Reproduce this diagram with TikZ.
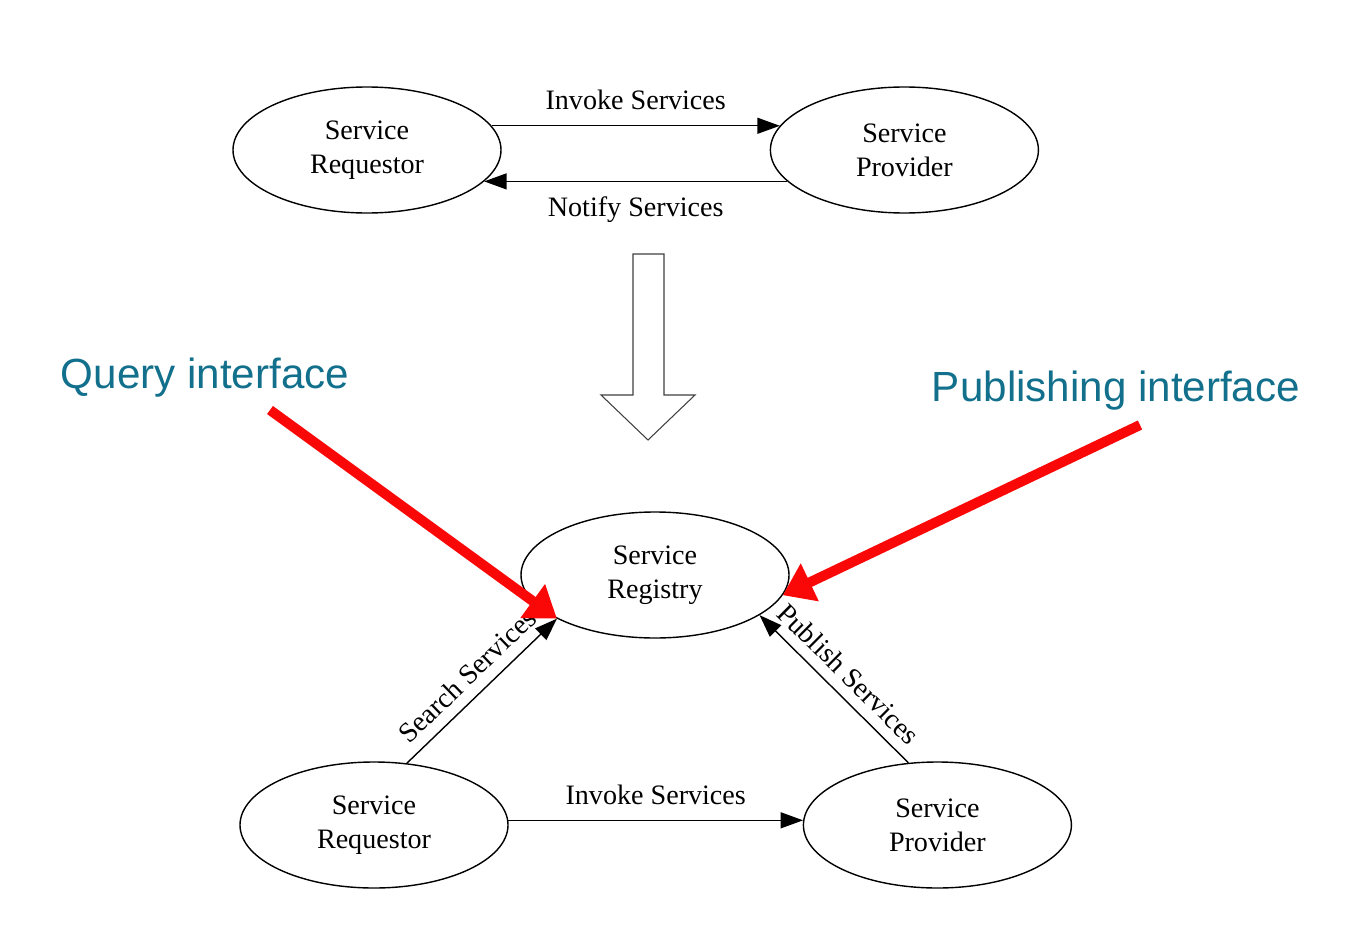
\documentclass[tikz,border=0pt]{standalone}
\usepackage{fontspec}
\setmainfont{Liberation Serif}
\newfontfamily\callfont{Liberation Sans}
\usepackage{xcolor}
\usetikzlibrary{shapes.geometric,arrows.meta,positioning}

\definecolor{callteal}{RGB}{18,112,140}
\definecolor{callred}{RGB}{250,8,8}

\begin{document}
\begin{tikzpicture}[
        svc/.style={ellipse, draw, line width=0.8pt, minimum width=5.36cm, minimum height=2.52cm, inner sep=0pt, align=center, font=\fontsize{16}{19.5}\selectfont},
        flow/.style={-{Triangle[length=0.45cm, width=0.32cm]}, line width=0.8pt},
        lbl/.style={font=\fontsize{16}{19}\selectfont, inner sep=8.5pt},
        callout/.style={font=\callfont\fontsize{24}{28}\selectfont, text=callteal},
        pointer/.style={-{Triangle[length=0.6cm, width=0.8cm]}, line width=0.2cm, callred},
        hollow/.style={draw=black!75, line width=0.6pt, fill=white}
    ]
        \useasboundingbox (0,0) rectangle (27.08,-18.88);

        % upper pair
        \node[svc] (reqtop) at (7.34,-3.0) {Service\\Requestor};
        \node[svc, right=5.36cm of reqtop] (provtop) {Service\\Provider};

        \draw[flow] (reqtop.11) -- node[lbl, above]{Invoke Services} (provtop.169);
        \draw[flow] (provtop.195) -- node[lbl, below]{Notify Services} (reqtop.-15);

        % transition
        \draw[hollow] (12.66,-5.08) -- (13.28,-5.08) -- (13.28,-7.9) -- (13.9,-7.9)
            -- (12.96,-8.8) -- (12.02,-7.9) -- (12.66,-7.9) -- cycle;

        % lower triangle
        \node[svc] (registry) at (13.1,-11.5) {Service\\Registry};
        \node[svc] (reqbot) at (7.48,-16.5) {Service\\Requestor};
        \node[svc, right=5.88cm of reqbot] (provbot) {Service\\Provider};

        \draw[flow] (reqbot.62) -- node[lbl, sloped, above, inner sep=6pt]{Search Services} (registry.204);
        \draw[flow] (provbot.115) -- node[lbl, sloped, above, inner sep=6pt]{Publish Services} (registry.-21);
        \draw[flow] (reqbot.2) -- node[lbl, above]{Invoke Services} (provbot.178);

        % interfaces
        \node[callout] (query) at (4.1,-7.56) {Query interface};
        \node[callout] (publishing) at (22.32,-7.82) {Publishing interface};
        \coordinate (qstart) at (5.4,-8.2);
        \coordinate (pstart) at (22.8,-8.5);

        \draw[pointer] (qstart) -- (registry.204);
        \draw[pointer] (pstart) -- (registry.-9);
    \end{tikzpicture}
\end{document}
